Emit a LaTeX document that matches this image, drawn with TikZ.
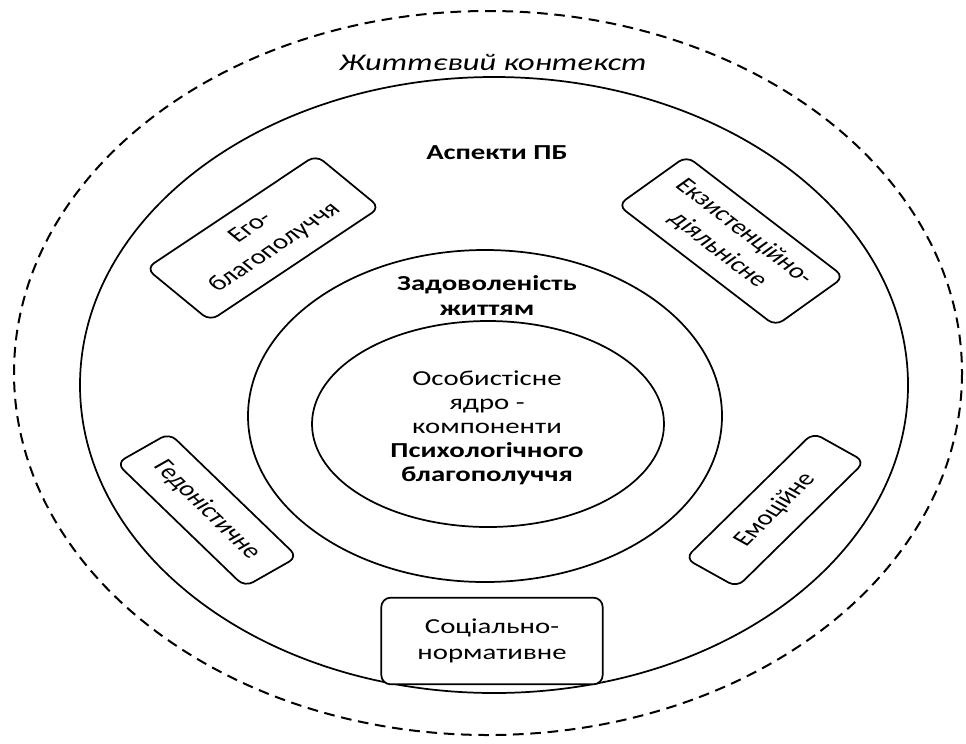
\documentclass[tikz,border=0pt]{standalone}
\usepackage{fontspec}
\setmainfont{Carlito}
\usetikzlibrary{positioning}

\begin{document}
\begin{tikzpicture}[x=0.75pt,y=-0.75pt,line cap=round,line join=round,
  oval/.style={draw=black,line width=1.3pt},
  ctxline/.style={draw=black,line width=1.5pt,line cap=butt,dash pattern=on 8pt off 5pt},
  aspectbox/.style={draw=black,line width=1.3pt,fill=white,rounded corners=7pt,align=center,
    inner sep=2pt,font=\fontsize{16}{20}\selectfont,xscale=1.35},
  txt/.style={align=center,inner sep=1pt,font=\fontsize{16}{18}\selectfont,xscale=1.35}]
\path[use as bounding box] (0,0) rectangle (966,743);
\draw[ctxline] (488,373) ellipse [x radius=474, y radius=362];
\draw[oval] (494,385) ellipse [x radius=414, y radius=308];
\draw[oval] (485,416) ellipse [x radius=237, y radius=166];
\draw[oval] (488,424) ellipse [x radius=176, y radius=103];
\node[txt,font=\fontsize{18}{20}\selectfont\itshape] (context) at (493,62) {Життєвий контекст};
\node[txt,font=\fontsize{16}{18}\selectfont\bfseries] (aspects) at (497,153) {Аспекти ПБ};
\node[txt,font=\fontsize{16}{18.75}\selectfont\bfseries] (satisf) at (487,296) {Задоволеність\\життям};
\node[txt] (core) at (487,428) {Особистісне\\ядро -\\компоненти\\\textbf{Психологічного}\\\textbf{благополуччя}};
\node[aspectbox,rotate=42,minimum width=127pt,minimum height=53pt] (ego) at (263,238) {Его-\\благополуччя};
\node[aspectbox,rotate=-46,minimum width=126pt,minimum height=53pt] (exist) at (731,241) {Екзистенційно-\\діяльнісне};
\node[aspectbox,rotate=-52.5,minimum width=117pt,minimum height=37pt] (hedon) at (207,510) {Гедоністичне};
\node[aspectbox,rotate=53,minimum width=118pt,minimum height=36pt] (emot) at (775,510) {Емоційне};
\node[aspectbox,minimum width=123pt,minimum height=65pt] (social) at (492,641) {Соціально-\\нормативне};
\end{tikzpicture}
\end{document}
